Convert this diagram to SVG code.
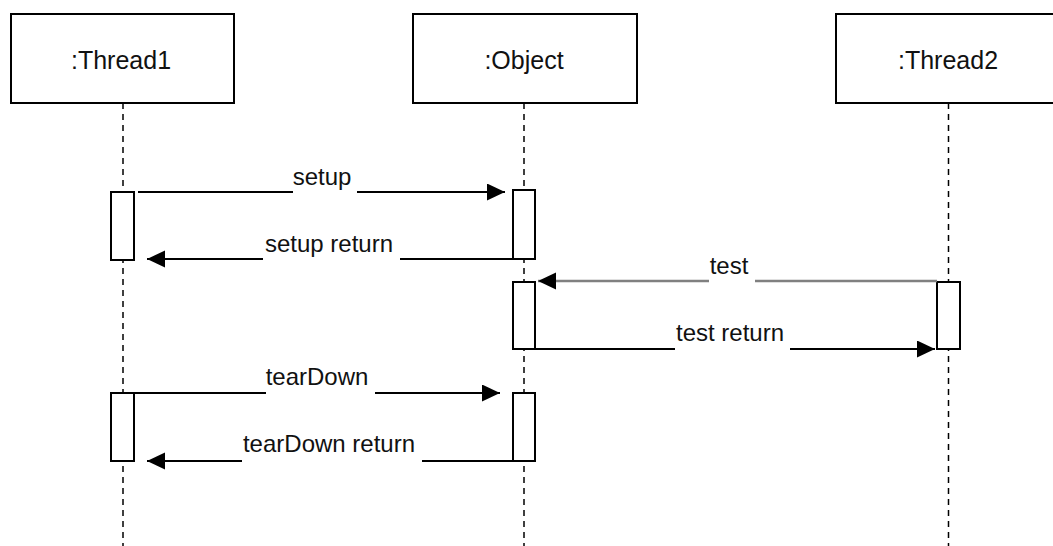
<svg xmlns="http://www.w3.org/2000/svg" width="1053" height="546" viewBox="0 0 1053 546">
<style>
.box{fill:#fff;stroke:#000;stroke-width:2}
.life{stroke:#000;stroke-width:1.5;stroke-dasharray:6 5;fill:none}
.act{fill:#fff;stroke:#000;stroke-width:2}
.msg{stroke:#000;stroke-width:2;fill:none}
.gray{stroke:#808080;stroke-width:2.5}
.t{font-family:"Liberation Sans",Arial,Helvetica,sans-serif;font-size:24px;fill:#111;text-anchor:middle}
.h{font-size:25px}
.bg{fill:#fff;stroke:none}
</style>
<defs>
<marker id="ah" markerUnits="userSpaceOnUse" markerWidth="20" markerHeight="18" refX="18" refY="8.5" orient="auto">
<path d="M0,0 L18,8.5 L0,17 z" fill="#000"/>
</marker>
</defs>
<rect width="1053" height="546" fill="#fff"/>
<g id="lifelines">
<line class="life" x1="123" y1="103" x2="123" y2="546"/>
<line class="life" x1="524" y1="103" x2="524" y2="546"/>
<line class="life" x1="948.5" y1="103" x2="948.5" y2="546"/>
</g>
<g id="thread1">
<rect class="box" x="11" y="14" width="223" height="89"/>
<text class="t h" x="121" y="69">:Thread1</text>
</g>
<g id="object">
<rect class="box" x="413" y="14" width="224" height="89"/>
<text class="t h" x="524" y="69">:Object</text>
</g>
<g id="thread2">
<rect class="box" x="836" y="14" width="226" height="89"/>
<text class="t h" x="948" y="69">:Thread2</text>
</g>
<g id="activations">
<rect class="act" x="111" y="192" width="23" height="68"/>
<rect class="act" x="513" y="190" width="22" height="69"/>
<rect class="act" x="513" y="282" width="22" height="67"/>
<rect class="act" x="937" y="282" width="23" height="67"/>
<rect class="act" x="111" y="393" width="23" height="68"/>
<rect class="act" x="513" y="393" width="22" height="68"/>
</g>
<g id="connectors">
<line class="msg" x1="138" y1="192" x2="505" y2="192" marker-end="url(#ah)"/>
<rect class="bg" x="293" y="168" width="64" height="27"/>
<text class="t" x="322" y="185">setup</text>
<line class="msg" x1="513" y1="259" x2="147" y2="259" marker-end="url(#ah)"/>
<rect class="bg" x="263" y="234" width="137" height="28"/>
<text class="t" x="329" y="252">setup return</text>
<line class="msg gray" x1="937" y1="281" x2="538" y2="281" marker-end="url(#ah)"/>
<rect class="bg" x="709" y="256" width="46" height="28"/>
<text class="t" x="729" y="274">test</text>
<line class="msg" x1="535" y1="349" x2="935" y2="349" marker-end="url(#ah)"/>
<rect class="bg" x="675" y="323" width="115" height="28"/>
<text class="t" x="730" y="341">test return</text>
<line class="msg" x1="134" y1="393" x2="500" y2="393" marker-end="url(#ah)"/>
<rect class="bg" x="266" y="367" width="109" height="28"/>
<text class="t" x="317" y="385">tearDown</text>
<line class="msg" x1="513" y1="461" x2="147" y2="461" marker-end="url(#ah)"/>
<rect class="bg" x="242" y="434" width="180" height="29"/>
<text class="t" x="329" y="452">tearDown return</text>
</g>
</svg>
